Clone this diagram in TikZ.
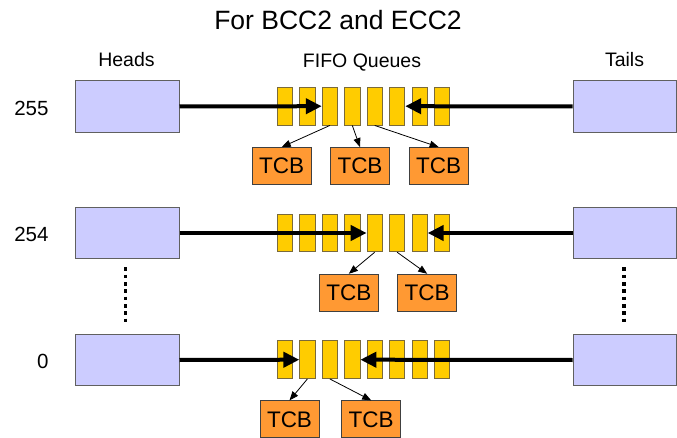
\documentclass[tikz,border=0pt]{standalone}
\usepackage{fontspec}
\setmainfont{Liberation Sans}
\usetikzlibrary{arrows.meta}
\definecolor{headfill}{HTML}{CCCCFF}
\definecolor{slotfill}{HTML}{FFCC00}
\definecolor{tcbfill}{HTML}{FF9933}
\definecolor{boxedge}{HTML}{606060}
\definecolor{slotedge}{HTML}{7A6A3A}
\definecolor{tcbedge}{HTML}{404040}

\begin{document}
\begin{tikzpicture}[x=1pt,y=-1pt,
  endbox/.style={draw=boxedge, fill=headfill, line width=1pt,
    minimum width=104pt, minimum height=51.5pt, inner sep=0pt},
  slot/.style={draw=slotedge, fill=slotfill, line width=0.8pt,
    minimum width=15.3pt, minimum height=37.7pt, inner sep=0pt},
  tcb/.style={draw=tcbedge, fill=tcbfill, line width=0.8pt,
    minimum width=59pt, minimum height=37pt, inner sep=0pt,
    font=\fontsize{22.5}{24}\selectfont},
  link/.style={line width=4pt, -{Triangle[length=16pt,width=15pt]}},
  ptr/.style={line width=0.8pt, -{Triangle[length=9pt,width=7pt]}},
  dots/.style={line width=3.5pt, dash pattern=on 3.5pt off 3.8pt},
  lbl/.style={font=\fontsize{19.5}{22}\selectfont, anchor=base},
  num/.style={font=\fontsize{20.5}{23}\selectfont, anchor=base east}]

\useasboundingbox (0,0) rectangle (677,438);

% title and column headings
\node[font=\fontsize{26.5}{30}\selectfont, anchor=base] (title) at (338,30) {For BCC2 and ECC2};
\node[lbl] (hHeads) at (126.5,67) {Heads};
\node[lbl] (hFifo) at (362,67.5) {FIFO Queues};
\node[lbl] (hTails) at (624.5,67) {Tails};

% priority labels
\node[num] (n255) at (52,116) {255};
\node[num] (n254) at (52,242) {254};
\node[num] (n0) at (52,368) {0};

% head and tail pointer boxes
\node[endbox] (h1) at (127,106.5) {};
\node[endbox] (h2) at (127,233) {};
\node[endbox] (h3) at (127,360) {};
\node[endbox, minimum width=103.5pt] (t1) at (624.75,106.5) {};
\node[endbox, minimum width=103.5pt] (t2) at (624.75,233) {};
\node[endbox, minimum width=103.5pt] (t3) at (624.75,360) {};

% queue slots
\foreach \r/\y in {1/106.2, 2/233, 3/359.7}{
  \foreach \k in {1,...,8}{
    \node[slot] (q\r c\k) at ({285+22.43*(\k-1)},\y) {};
  }
}

% task control blocks
\node[tcb] (a1) at (281.7,166) {TCB};
\node[tcb] (a2) at (360,166) {TCB};
\node[tcb] (a3) at (438.7,166) {TCB};
\node[tcb] (b1) at (348.8,292.7) {TCB};
\node[tcb] (b2) at (427.2,292.7) {TCB};
\node[tcb] (c1) at (289.5,419.3) {TCB};
\node[tcb] (c2) at (371.2,419.3) {TCB};

% head / tail links
\draw[link] (h1.east) -- (q1c3.west);
\draw[link] (t1.west) -- (q1c6.east);
\draw[link] (h2.east) -- (q2c5.west);
\draw[link] (t2.west) -- (q2c7.east);
\draw[link] (h3.east) -- (q3c2.west);
\draw[link] (t3.west) -- (q3c4.east);

% slot to TCB pointers
\draw[ptr] (q1c3.south) -- (a1.north);
\draw[ptr] (q1c4.south) -- (a2.north);
\draw[ptr] (q1c5.south) -- (a3.north);
\draw[ptr] (q2c5.south) -- (b1.north);
\draw[ptr] (q2c6.south) -- (b2.north);
\draw[ptr] (q3c2.south) -- (c1.north);
\draw[ptr] (q3c3.south) -- (c2.north);

% ellipsis between levels
\coordinate (dl1) at (125.7,267.5);
\coordinate (dl2) at (125.7,323);
\coordinate (dr1) at (624,267.5);
\coordinate (dr2) at (624,323);
\draw[dots] (dl1) -- (dl2);
\draw[dots] (dr1) -- (dr2);
\end{tikzpicture}
\end{document}
